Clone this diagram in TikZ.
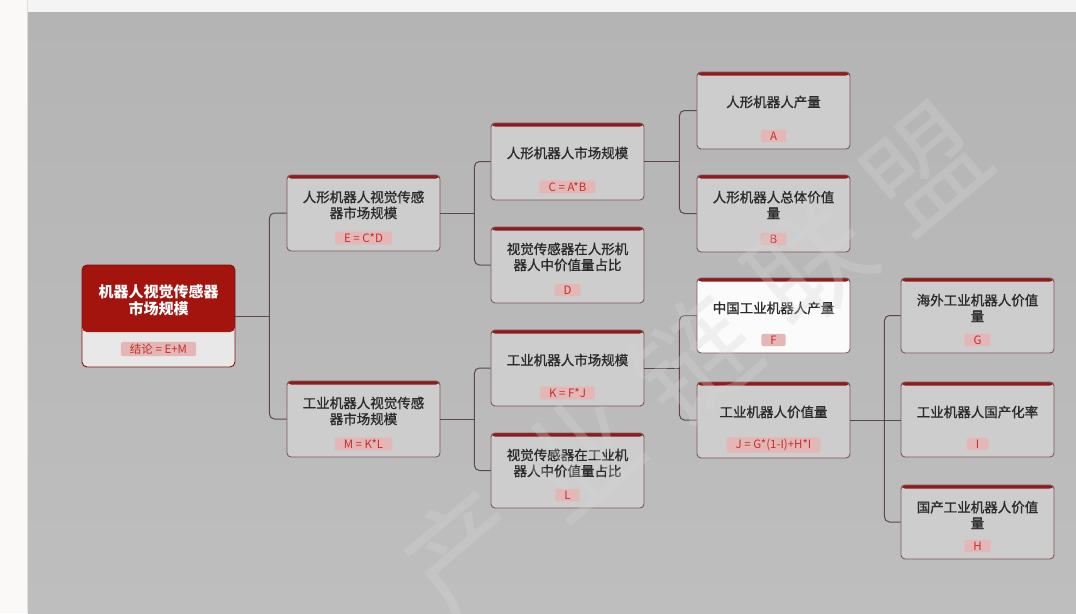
\documentclass[tikz,border=0pt]{standalone}
\usepackage{fontspec}
\setmainfont{Noto Sans CJK SC}
\newfontfamily\semib{Noto Sans CJK SC}[FakeBold=1.1]
\usetikzlibrary{calc}
\definecolor{bgA}{HTML}{B4B4B4}
\definecolor{bgB}{HTML}{BEBEBE}
\definecolor{boxfill}{HTML}{CDCDCD}
\definecolor{boxline}{HTML}{7E5656}
\definecolor{topred}{HTML}{8E1C1A}
\definecolor{rootred}{HTML}{A3140F}
\definecolor{fred}{HTML}{C4302C}
\definecolor{fpink}{HTML}{E4B6B5}
\definecolor{connc}{HTML}{5C4848}
\definecolor{txt}{HTML}{2B2B2B}
\definecolor{stripw}{HTML}{FBF8F8}
\definecolor{stript}{HTML}{F4F4F4}
\definecolor{wmc}{HTML}{D6D6D6}
\tikzset{
 box/.style={draw=boxline, line width=0.9pt, fill=boxfill, rounded corners=4pt,
   minimum width=153pt, inner sep=0pt,
   path picture={\fill[topred] (path picture bounding box.north west) rectangle ([yshift=-3.5pt]path picture bounding box.north east);}},
 whitebox/.style={fill=white!97!gray},
 title/.style={font=\semib\fontsize{13.5}{16}\selectfont, text=txt, align=center, inner sep=0pt},
 formula/.style={fill=fpink, text=fred, rounded corners=2pt, font=\fontsize{11.5}{13}\selectfont, inner xsep=9pt, inner ysep=1.8pt},
 rootbox/.style={draw=rootred!80!black, line width=0.9pt, fill=white!82!gray, rounded corners=5pt,
   minimum width=153pt, minimum height=102pt, inner sep=0pt,
   path picture={\fill[rootred] (path picture bounding box.north west) rectangle ([yshift=-67pt]path picture bounding box.north east);}},
 roottitle/.style={font=\fontsize{15}{17}\selectfont\bfseries, text=white, align=center, inner sep=0pt},
 conn/.style={draw=connc, line width=1pt},
 connr/.style={conn, rounded corners=5pt},
 wmark/.style={font=\fontsize{118}{118}\selectfont, text=wmc, opacity=0.3, inner sep=0pt}
}
% opt style, name, cx, top, bottom, title, formula
\newcommand\kbox[7][]{%
  \pgfmathsetmacro\kh{#5-#4}\pgfmathsetmacro\kc{(#4+#5)/2}%
  \node[box,#1,minimum height=\kh pt] (#2) at (#3,\kc) {};
  \node[title] (#2-t) at (#3,#4+30) {#6};
  \node[formula] (#2-f) at (#3,#5-13) {#7};
}
\begin{document}
\begin{tikzpicture}[x=1pt,y=-1pt]
\useasboundingbox (0,0) rectangle (1076,613);
\fill[stripw] (0,0) rectangle (28,613);
\fill[stript] (28,0) rectangle (1076,12);
\shade[top color=bgA, bottom color=bgB] (28,12) rectangle (1076,613);
\draw[gray!25, line width=1pt] (27.5,0) -- (27.5,613);

% root
\node[rootbox] (R) at (158.5,316) {};
\node[roottitle] (R-t) at (158.5,300) {机器人视觉传感器\\市场规模};
\node[formula] (R-f) at (158.5,349) {结论 = E+M};

% level 1
\kbox{E}{363.5}{175}{251}{人形机器人视觉传感\\器市场规模}{E = C*D}
\kbox{M}{363.5}{381}{457}{工业机器人视觉传感\\器市场规模}{M = K*L}
% level 2
\kbox{C}{567.5}{123}{200}{人形机器人市场规模}{C = A*B}
\kbox{D}{567.5}{227}{303}{视觉传感器在人形机\\器人中价值量占比}{D}
\kbox{K}{567.5}{330}{406}{工业机器人市场规模}{K = F*J}
\kbox{L}{567.5}{433}{508}{视觉传感器在工业机\\器人中价值量占比}{L}
% level 3
\kbox{A}{773.5}{72}{149}{人形机器人产量}{A}
\kbox{B}{773.5}{175}{252}{人形机器人总体价值\\量}{B}
\kbox[whitebox]{F}{773.5}{278}{353}{中国工业机器人产量}{F}
\kbox{J}{773.5}{382}{458}{工业机器人价值量}{J = G*(1-I)+H*I}
% level 4
\kbox{G}{977.5}{278}{353}{海外工业机器人价值\\量}{G}
\kbox{I}{977.5}{382}{457}{工业机器人国产化率}{I}
\kbox{H}{977.5}{485}{559}{国产工业机器人价值\\量}{H}

% connectors
\coordinate (b0) at ($(R.east)+(34,0)$);
\draw[conn] (R.east) -- (b0);
\draw[connr] (b0) |- (E.west);
\draw[connr] (b0) |- (M.west);

\coordinate (bE) at ($(E.east)+(34,0)$);
\draw[conn] (E.east) -- (bE);
\draw[connr] (bE) |- (C.west);
\draw[connr] (bE) |- (D.west);

\coordinate (bM) at ($(M.east)+(34,0)$);
\draw[conn] (M.east) -- (bM);
\draw[connr] (bM) |- (K.west);
\draw[connr] (bM) |- (L.west);

\coordinate (bC) at ($(C.east)+(35,0)$);
\draw[conn] (C.east) -- (bC);
\draw[connr] (bC) |- (A.west);
\draw[connr] (bC) |- (B.west);

\coordinate (bK) at ($(K.east)+(35,0)$);
\draw[conn] (K.east) -- (bK);
\draw[connr] (bK) |- (F.west);
\draw[connr] (bK) |- (J.west);

\coordinate (bJ) at ($(J.east)+(34,0)$);
\draw[conn] (J.east) -- (bJ);
\draw[connr] (bJ) |- (G.west);
\draw[conn] (bJ) -- (I.west |- bJ);
\draw[connr] (bJ) |- (H.west);

% watermark, faint, over the whole chart as in the reference
\node[wmark, rotate=40] (wm) at (695,360) {产\hspace{32pt}业\hspace{32pt}链\hspace{32pt}联\hspace{32pt}盟};
\end{tikzpicture}
\end{document}
